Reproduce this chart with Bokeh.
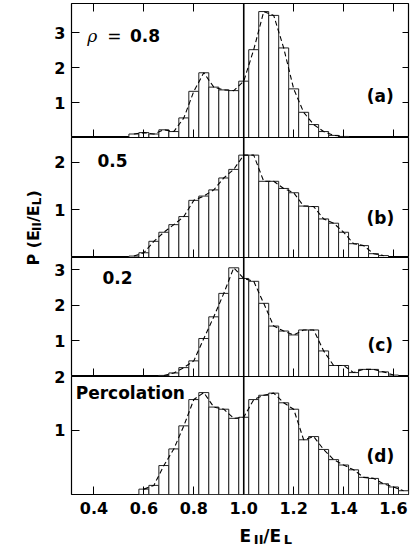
import math
from bokeh.plotting import figure
from bokeh.models import Range1d, LinearAxis, FixedTicker, Span, Label, CustomJSTickFormatter
from bokeh.layouts import column, row
from bokeh.embed import file_html
from bokeh.resources import INLINE

# ---------------- data ----------------
X_TICKS = [0.4, 0.6, 0.8, 1.0, 1.2, 1.4, 1.6]
X_TICK_LABELS = ["0.4", "0.6", "0.8", "1.0", "1.2", "1.4", "1.6"]
BIN_WIDTH = 0.04

# panel (a)  rho = 0.8
a_centers = [0.56, 0.60, 0.64, 0.68, 0.72, 0.76, 0.80, 0.84, 0.88, 0.92, 0.96,
             1.00, 1.04, 1.08, 1.12, 1.16, 1.20, 1.24, 1.28, 1.32, 1.36, 1.40]
a_values = [0.10, 0.14, 0.10, 0.22, 0.17, 0.56, 1.32, 1.85, 1.44, 1.36, 1.34,
            1.61, 2.51, 3.60, 3.49, 2.56, 1.39, 0.72, 0.37, 0.17, 0.06, 0.03]

# panel (b)  0.5
b_centers = [0.56, 0.60, 0.64, 0.68, 0.72, 0.76, 0.80, 0.84, 0.88, 0.92, 0.96,
             1.00, 1.04, 1.08, 1.12, 1.16, 1.20, 1.24, 1.28, 1.32, 1.36, 1.40,
             1.44, 1.48, 1.52, 1.56]
b_values = [0.03, 0.10, 0.34, 0.53, 0.69, 0.86, 1.20, 1.29, 1.42, 1.67, 1.85,
            2.15, 2.15, 1.60, 1.60, 1.45, 1.36, 1.08, 1.07, 0.81, 0.72, 0.53,
            0.29, 0.25, 0.08, 0.04]

# panel (c)  0.2
c_centers = [0.68, 0.72, 0.76, 0.80, 0.84, 0.88, 0.92, 0.96, 1.00, 1.04, 1.08,
             1.12, 1.16, 1.20, 1.24, 1.28, 1.32, 1.36, 1.40, 1.44, 1.48, 1.52,
             1.56, 1.60]
c_values = [0.03, 0.10, 0.25, 0.44, 1.07, 1.68, 2.34, 3.06, 2.76, 2.68, 2.06,
            1.42, 1.28, 1.17, 1.31, 1.31, 0.72, 0.31, 0.31, 0.11, 0.20, 0.20,
            0.13, 0.04]

# panel (d)  Percolation (values read on the panel's own axis)
d_centers = [0.60, 0.64, 0.68, 0.72, 0.76, 0.80, 0.84, 0.88, 0.92, 0.96, 1.00,
             1.04, 1.08, 1.12, 1.16, 1.20, 1.24, 1.28, 1.32, 1.36, 1.40, 1.44,
             1.48, 1.52, 1.56, 1.60, 1.64]
d_values = [-0.10, -0.03, 0.34, 0.65, 1.08, 1.57, 1.70, 1.43, 1.39, 1.22, 1.24,
            1.57, 1.65, 1.69, 1.51, 1.39, 0.82, 0.88, 0.64, 0.45, 0.35, 0.26,
            0.12, 0.10, 0.00, -0.06, -0.13]

FONT = "DejaVu Sans"
X_RANGE = Range1d(0.31, 1.66)
TITLE_W = 45          # width of the strip holding the y title
FRAME_W = 337


def tick_only_axis(p, side, ticks, loc, length):
    ax = LinearAxis(ticker=FixedTicker(ticks=ticks, minor_ticks=[]))
    ax.formatter = CustomJSTickFormatter(code="return ''")
    ax.fixed_location = loc
    ax.major_tick_in = length
    ax.major_tick_out = 0
    ax.minor_tick_in = 0
    ax.minor_tick_out = 0
    ax.axis_line_color = None
    ax.major_label_standoff = 0
    p.add_layout(ax, side)


def make_panel(centers, values, y0, y1, y_ticks, frame_h, top_ticks, labels_below,
               border_top, border_bottom):
    p = figure(frame_width=FRAME_W, frame_height=frame_h, x_range=X_RANGE,
               y_range=Range1d(y0, y1), output_backend="svg", toolbar_location=None,
               x_axis_location=None, y_axis_location=None,
               min_border_left=71 - TITLE_W, min_border_right=3,
               min_border_top=border_top, min_border_bottom=border_bottom)
    p.background_fill_color = "white"
    p.border_fill_color = "white"
    p.outline_line_color = "black"
    p.outline_line_width = 1.2
    p.grid.visible = False

    left = [c - BIN_WIDTH / 2 for c in centers]
    right = [c + BIN_WIDTH / 2 for c in centers]
    p.quad(left=left, right=right, bottom=y0, top=values, fill_color="white",
           line_color="#222222", line_width=1)
    p.line(centers, values, line_color="black", line_width=1.1, line_dash="5 3")
    p.add_layout(Span(location=1.0, dimension="height", line_color="black", line_width=1.6))

    yl = LinearAxis(ticker=FixedTicker(ticks=y_ticks, minor_ticks=[]))
    yl.major_tick_in = 8
    yl.major_tick_out = 0
    yl.minor_tick_in = 0
    yl.minor_tick_out = 0
    yl.axis_line_color = None
    yl.major_label_text_font = FONT
    yl.major_label_text_font_style = "bold"
    yl.major_label_text_font_size = "16px"
    yl.major_label_text_color = "black"
    yl.major_label_standoff = 6
    p.add_layout(yl, "left")

    tick_only_axis(p, "right", y_ticks, X_RANGE.end, 6)
    if top_ticks:
        tick_only_axis(p, "above", X_TICKS, y1, 8)
    if labels_below:
        xb = LinearAxis(ticker=FixedTicker(ticks=X_TICKS, minor_ticks=[]))
        xb.major_label_overrides = {t: s for t, s in zip(X_TICKS, X_TICK_LABELS)}
        xb.major_tick_in = 8
        xb.major_tick_out = 0
        xb.minor_tick_in = 0
        xb.minor_tick_out = 0
        xb.axis_line_color = None
        xb.major_label_text_font = FONT
        xb.major_label_text_font_style = "bold"
        xb.major_label_text_font_size = "16px"
        xb.major_label_text_color = "black"
        xb.major_label_standoff = 7
        p.add_layout(xb, "below")
    else:
        tick_only_axis(p, "below", X_TICKS, y0, 8)
    return p


def lab(p, x, y, text, size="17px", style="bold", align="left", baseline="alphabetic",
        font=FONT, angle=0.0):
    p.add_layout(Label(x=x, y=y, text=text, text_font=font, text_font_style=style,
                       text_font_size=size, text_align=align, text_baseline=baseline,
                       text_color="black", angle=angle))


def blank_fig(w, h, xr, yr):
    f = figure(frame_width=w, frame_height=h, x_range=xr, y_range=yr,
               output_backend="svg", toolbar_location=None,
               x_axis_location=None, y_axis_location=None,
               min_border_left=0, min_border_right=0, min_border_top=0, min_border_bottom=0)
    f.outline_line_color = None
    f.grid.visible = False
    f.background_fill_color = "white"
    f.border_fill_color = "white"
    return f


OVERLAP = 7   # panel (d) reaches up over panel (c) so that its top tick label is whole

pa = make_panel(a_centers, a_values, 0.0, 3.83, [1, 2, 3], 134, True, False, 3, 0)
pb = make_panel(b_centers, b_values, 0.0, 2.52, [1, 2], 120, False, False, 0, 0)
pc = make_panel(c_centers, c_values, 0.0, 3.35, [1, 2, 3], 119, False, False, 0, 0)
pd = make_panel(d_centers, d_values, -0.2, 2.0, [1, 2], 118, False, True, OVERLAP, 30)
pd.border_fill_alpha = 0
pd.margin = (-OVERLAP, 0, 0, 0)

# panel annotations
lab(pa, 0.373, 2.906, "ρ", style="italic", font="DejaVu Serif")
lab(pa, 0.453, 2.906, "=", style="normal")
lab(pa, 0.544, 2.906, "0.8")
lab(pb, 0.414, 2.04, "0.5")
lab(pc, 0.434, 2.797, "0.2")
lab(pd, 0.327, 1.69, "Percolation")

lab(pa, 1.547, 1.177, "(a)", align="center", baseline="middle")
lab(pb, 1.547, 0.84, "(b)", align="center", baseline="middle")
lab(pc, 1.547, 0.873, "(c)", align="center", baseline="middle")
lab(pd, 1.547, 0.515, "(d)", align="center", baseline="middle")

# x-axis title strip (coordinates = page pixels)
xt = blank_fig(411 - TITLE_W, 28, Range1d(TITLE_W, 411), Range1d(552, 524))
lab(xt, 213, 535, "E")
lab(xt, 227.3, 539, "II", size="13px")
lab(xt, 236.7, 535, "/E")
lab(xt, 257.3, 539, "L", size="13px")

# y-axis title strip (coordinates = page pixels), rotated text
yt = blank_fig(TITLE_W, 552, Range1d(0, TITLE_W), Range1d(552, 0))
r = math.pi / 2
lab(yt, 33, 265, "P (E", size="16px", angle=r)
lab(yt, 36, 230.4, "II", size="12px", angle=r)
lab(yt, 33, 221.5, "/E", size="16px", angle=r)
lab(yt, 36, 204.7, "L", size="12px", angle=r)
lab(yt, 33, 197.1, ")", size="16px", angle=r)

layout = row(yt, column(pa, pb, pc, pd, xt, spacing=0), spacing=0)

open("out.html", "w").write(file_html(layout, INLINE))
